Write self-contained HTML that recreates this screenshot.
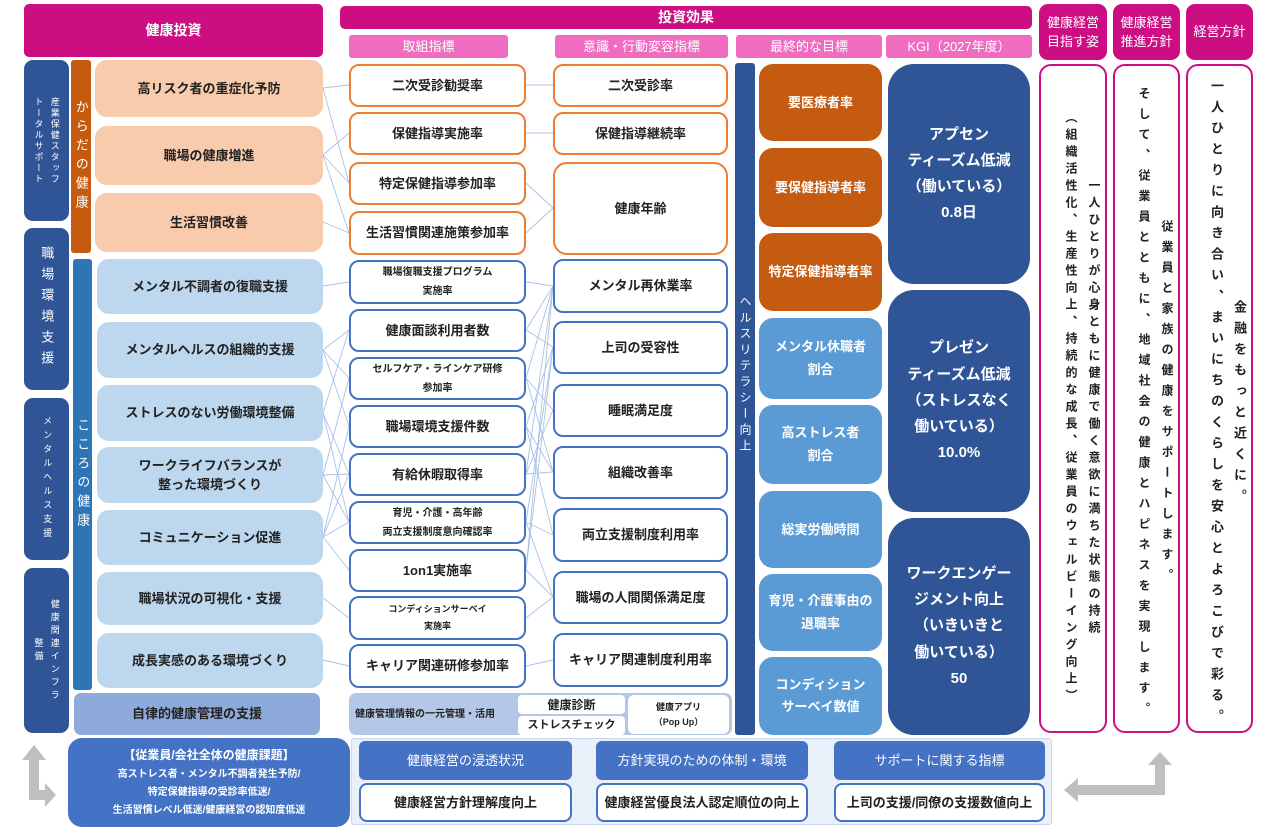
<!DOCTYPE html>
<html><head><meta charset="utf-8">
<style>
*{margin:0;padding:0;box-sizing:border-box}
body{width:1280px;height:833px;background:#fff;position:relative;overflow:hidden;font-family:"Liberation Sans","Noto Sans CJK JP",sans-serif;font-weight:bold;color:#222}
.b{position:absolute;display:flex;align-items:center;justify-content:center;text-align:center;border-radius:9px;font-size:13px;line-height:1.5}
.mg{background:#cc0e82;color:#fff;border-radius:5px}
.pk{background:#f06cc1;color:#fff;border-radius:3px;font-weight:normal;font-size:13px}
.dk{background:#2f5597;color:#fff}
.or{background:#f8cbad;border-radius:12px}
.lb{background:#bdd7ee;border-radius:12px}
.wo{background:#fff;border:2px solid #ed7d31;border-radius:10px}
.wb{background:#fff;border:2px solid #4472c4;border-radius:10px}
.fo{background:#c55a11;color:#fff;border-radius:14px}
.fb{background:#5b9bd5;color:#fff;border-radius:14px}
.kg{background:#2f5597;color:#fff;border-radius:26px;font-size:15px;line-height:1.75}
.v{writing-mode:vertical-rl;text-orientation:upright;letter-spacing:2px}
.rt{position:absolute;border:2.5px solid #cc0e82;border-radius:12px;background:#fff;writing-mode:vertical-rl;text-align:center;font-size:12px;line-height:23px;letter-spacing:5px;padding-top:12px;display:flex;justify-content:center}
.sm{font-size:10px;line-height:1.9}
</style></head><body>

<svg style="position:absolute;left:0;top:0" width="1280" height="833">
<g stroke="#a9c1e8" stroke-width="0.9" fill="none">
<line x1="323" y1="88" x2="349" y2="85"/><line x1="323" y1="88" x2="349" y2="183"/>
<line x1="323" y1="155" x2="349" y2="133"/><line x1="323" y1="155" x2="349" y2="183"/><line x1="323" y1="155" x2="349" y2="233"/>
<line x1="323" y1="222" x2="349" y2="233"/>
<line x1="323" y1="286" x2="349" y2="282"/>
<line x1="323" y1="350" x2="349" y2="330"/><line x1="323" y1="350" x2="349" y2="378"/><line x1="323" y1="350" x2="349" y2="426"/>
<line x1="323" y1="413" x2="349" y2="330"/><line x1="323" y1="413" x2="349" y2="474"/><line x1="323" y1="413" x2="349" y2="522"/>
<line x1="323" y1="475" x2="349" y2="378"/><line x1="323" y1="475" x2="349" y2="474"/><line x1="323" y1="475" x2="349" y2="522"/>
<line x1="323" y1="537" x2="349" y2="426"/><line x1="323" y1="537" x2="349" y2="474"/><line x1="323" y1="537" x2="349" y2="522"/><line x1="323" y1="537" x2="349" y2="570"/>
<line x1="323" y1="598" x2="349" y2="618"/><line x1="323" y1="660" x2="349" y2="666"/>
<line x1="526" y1="85" x2="553" y2="85"/><line x1="526" y1="133" x2="553" y2="133"/>
<line x1="526" y1="183" x2="553" y2="208"/><line x1="526" y1="233" x2="553" y2="208"/>
<line x1="526" y1="282" x2="553" y2="286"/>
<line x1="526" y1="330" x2="553" y2="286"/><line x1="526" y1="330" x2="553" y2="347"/>
<line x1="526" y1="378" x2="553" y2="286"/><line x1="526" y1="378" x2="553" y2="410"/><line x1="526" y1="378" x2="553" y2="472"/>
<line x1="526" y1="426" x2="553" y2="347"/><line x1="526" y1="426" x2="553" y2="472"/><line x1="526" y1="426" x2="553" y2="535"/>
<line x1="526" y1="474" x2="553" y2="410"/><line x1="526" y1="474" x2="553" y2="472"/><line x1="526" y1="474" x2="553" y2="286"/>
<line x1="526" y1="522" x2="553" y2="535"/><line x1="526" y1="522" x2="553" y2="597"/><line x1="526" y1="522" x2="553" y2="347"/>
<line x1="526" y1="570" x2="553" y2="286"/><line x1="526" y1="570" x2="553" y2="347"/><line x1="526" y1="570" x2="553" y2="597"/>
<line x1="526" y1="618" x2="553" y2="597"/><line x1="526" y1="666" x2="553" y2="660"/>
</g>
<g fill="#bfbfbf">
<polygon points="29,800 29,760 22,760 34,745 46,760 39,760 39,790 45,790 45,783 56,795 45,807 45,800"/>
<polygon points="1078,785 1155,785 1155,765 1148,765 1160,752 1172,765 1165,765 1165,795 1078,795 1078,802 1064,790 1078,778"/>
</g>
</svg>

<div class="b mg" style="left:24px;top:4px;width:299px;height:53px;font-size:14px">健康投資</div>
<div class="b mg" style="left:340px;top:6px;width:692px;height:23px;font-size:14px">投資効果</div>
<div class="b pk" style="left:349px;top:35px;width:159px;height:23px">取組指標</div>
<div class="b pk" style="left:555px;top:35px;width:173px;height:23px">意識・行動変容指標</div>
<div class="b pk" style="left:736px;top:35px;width:146px;height:23px">最終的な目標</div>
<div class="b pk" style="left:886px;top:35px;width:146px;height:23px">KGI（2027年度）</div>
<div class="b mg" style="left:1039px;top:4px;width:68px;height:56px;border-radius:9px;font-weight:normal">健康経営<br>目指す姿</div>
<div class="b mg" style="left:1113px;top:4px;width:67px;height:56px;border-radius:9px;font-weight:normal">健康経営<br>推進方針</div>
<div class="b mg" style="left:1186px;top:4px;width:67px;height:56px;border-radius:9px;font-weight:normal">経営方針</div>

<div class="rt" style="left:1039px;top:64px;width:68px;height:669px;padding-top:20px"><span>一人ひとりが心身ともに健康で働く意欲に満ちた状態の持続<br>（組織活性化、生産性向上、持続的な成長、従業員のウェルビーイング向上）</span></div>
<div class="rt" style="left:1113px;top:64px;width:67px;height:669px;letter-spacing:8.5px"><span>従業員と家族の健康をサポートします。<br>そして、従業員とともに、地域社会の健康とハピネスを実現します。</span></div>
<div class="rt" style="left:1186px;top:64px;width:67px;height:669px;font-size:13px;letter-spacing:8px"><span>金融をもっと近くに。<br>一人ひとりに向き合い、まいにちのくらしを安心とよろこびで彩る。</span></div>

<div class="b dk v" style="left:24px;top:60px;width:45px;height:161px;font-size:9px;font-weight:normal;line-height:1.8">産業保健スタッフ<br>トータルサポート</div>
<div class="b dk v" style="left:24px;top:228px;width:45px;height:162px;font-size:13px;font-weight:normal;letter-spacing:8px">職場環境支援</div>
<div class="b dk v" style="left:24px;top:398px;width:45px;height:162px;font-size:9px;font-weight:normal;letter-spacing:5px">メンタルヘルス支援</div>
<div class="b dk v" style="left:24px;top:568px;width:45px;height:165px;font-size:9px;font-weight:normal;line-height:1.8;letter-spacing:4px">健康関連インフラ<br>整備</div>
<div class="b v" style="left:71px;top:60px;width:20px;height:193px;background:#c55a11;color:#fff;border-radius:3px;font-size:13px;font-weight:normal;letter-spacing:6px">からだの健康</div>
<div class="b v" style="left:73px;top:259px;width:19px;height:431px;background:#2e75b6;color:#fff;border-radius:3px;font-size:13px;font-weight:normal;letter-spacing:6px">こころの健康</div>

<div class="b or" style="left:95px;top:60px;width:228px;height:57px">高リスク者の重症化予防</div>
<div class="b or" style="left:95px;top:126px;width:228px;height:59px">職場の健康増進</div>
<div class="b or" style="left:95px;top:193px;width:228px;height:59px">生活習慣改善</div>
<div class="b lb" style="left:97px;top:259px;width:226px;height:55px">メンタル不調者の復職支援</div>
<div class="b lb" style="left:97px;top:322px;width:226px;height:56px">メンタルヘルスの組織的支援</div>
<div class="b lb" style="left:97px;top:385px;width:226px;height:56px">ストレスのない労働環境整備</div>
<div class="b lb" style="left:97px;top:447px;width:226px;height:56px">ワークライフバランスが<br>整った環境づくり</div>
<div class="b lb" style="left:97px;top:510px;width:226px;height:55px">コミュニケーション促進</div>
<div class="b lb" style="left:97px;top:572px;width:226px;height:53px">職場状況の可視化・支援</div>
<div class="b lb" style="left:97px;top:633px;width:226px;height:55px">成長実感のある環境づくり</div>
<div class="b" style="left:74px;top:693px;width:246px;height:42px;background:#8eaadb;border-radius:7px">自律的健康管理の支援</div>

<div class="b wo" style="left:349px;top:64px;width:177px;height:43px">二次受診勧奨率</div>
<div class="b wo" style="left:349px;top:112px;width:177px;height:43px">保健指導実施率</div>
<div class="b wo" style="left:349px;top:162px;width:177px;height:43px">特定保健指導参加率</div>
<div class="b wo" style="left:349px;top:211px;width:177px;height:44px">生活習慣関連施策参加率</div>
<div class="b wb sm" style="left:349px;top:260px;width:177px;height:44px">職場復職支援プログラム<br>実施率</div>
<div class="b wb" style="left:349px;top:309px;width:177px;height:43px">健康面談利用者数</div>
<div class="b wb sm" style="left:349px;top:357px;width:177px;height:43px">セルフケア・ラインケア研修<br>参加率</div>
<div class="b wb" style="left:349px;top:405px;width:177px;height:43px">職場環境支援件数</div>
<div class="b wb" style="left:349px;top:453px;width:177px;height:43px">有給休暇取得率</div>
<div class="b wb sm" style="left:349px;top:501px;width:177px;height:43px">育児・介護・高年齢<br>両立支援制度意向確認率</div>
<div class="b wb" style="left:349px;top:549px;width:177px;height:43px">1on1実施率</div>
<div class="b wb sm" style="left:349px;top:596px;width:177px;height:44px;font-size:9px">コンディションサーベイ<br>実施率</div>
<div class="b wb" style="left:349px;top:644px;width:177px;height:44px">キャリア関連研修参加率</div>

<div class="b wo" style="left:553px;top:64px;width:175px;height:43px">二次受診率</div>
<div class="b wo" style="left:553px;top:112px;width:175px;height:43px">保健指導継続率</div>
<div class="b wo" style="left:553px;top:162px;width:175px;height:93px;border-radius:14px">健康年齢</div>
<div class="b wb" style="left:553px;top:259px;width:175px;height:54px">メンタル再休業率</div>
<div class="b wb" style="left:553px;top:321px;width:175px;height:53px">上司の受容性</div>
<div class="b wb" style="left:553px;top:384px;width:175px;height:53px">睡眠満足度</div>
<div class="b wb" style="left:553px;top:446px;width:175px;height:53px">組織改善率</div>
<div class="b wb" style="left:553px;top:508px;width:175px;height:54px">両立支援制度利用率</div>
<div class="b wb" style="left:553px;top:571px;width:175px;height:53px">職場の人間関係満足度</div>
<div class="b wb" style="left:553px;top:633px;width:175px;height:54px">キャリア関連制度利用率</div>

<div class="b" style="left:349px;top:693px;width:383px;height:42px;background:#b4c7e7;border-radius:7px;justify-content:flex-start;padding-left:6px;font-size:10px">健康管理情報の一元管理・活用</div>
<div class="b" style="left:518px;top:695px;width:107px;height:19px;background:#fff;border-radius:4px;font-size:12px">健康診断</div>
<div class="b" style="left:518px;top:716px;width:107px;height:19px;background:#fff;border-radius:4px;font-size:11px">ストレスチェック</div>
<div class="b" style="left:628px;top:695px;width:101px;height:39px;background:#fff;border-radius:6px;font-size:9px;line-height:1.6">健康アプリ<br>（Pop Up）</div>

<div class="b v" style="left:735px;top:63px;width:20px;height:672px;background:#2f5597;color:#fff;border-radius:3px;font-size:12px;font-weight:normal;justify-content:flex-start;align-items:center;letter-spacing:4px"><span style="margin-top:232px">ヘルスリテラシー向上</span></div>

<div class="b fo" style="left:759px;top:64px;width:123px;height:77px">要医療者率</div>
<div class="b fo" style="left:759px;top:148px;width:123px;height:79px">要保健指導者率</div>
<div class="b fo" style="left:759px;top:233px;width:123px;height:78px">特定保健指導者率</div>
<div class="b fb" style="left:759px;top:318px;width:123px;height:81px;line-height:1.7">メンタル休職者<br>割合</div>
<div class="b fb" style="left:759px;top:405px;width:123px;height:79px;line-height:1.7">高ストレス者<br>割合</div>
<div class="b fb" style="left:759px;top:491px;width:123px;height:77px">総実労働時間</div>
<div class="b fb" style="left:759px;top:574px;width:123px;height:77px;line-height:1.7">育児・介護事由の<br>退職率</div>
<div class="b fb" style="left:759px;top:657px;width:123px;height:78px;line-height:1.7">コンディション<br>サーベイ数値</div>

<div class="b kg" style="left:888px;top:64px;width:142px;height:220px">アプセン<br>ティーズム低減<br>（働いている）<br>0.8日</div>
<div class="b kg" style="left:888px;top:290px;width:142px;height:222px">プレゼン<br>ティーズム低減<br>（ストレスなく<br>働いている）<br>10.0%</div>
<div class="b kg" style="left:888px;top:518px;width:142px;height:217px">ワークエンゲー<br>ジメント向上<br>（いきいきと<br>働いている）<br>50</div>

<div class="b" style="left:68px;top:738px;width:282px;height:89px;background:#4472c4;color:#fff;border-radius:14px;font-size:10px;line-height:1.8"><div><span style="font-size:12px">【従業員/会社全体の健康課題】</span><br>高ストレス者・メンタル不調者発生予防/<br>特定保健指導の受診率低迷/<br>生活習慣レベル低迷/健康経営の認知度低迷</div></div>
<div style="position:absolute;left:351px;top:738px;width:701px;height:87px;background:#eaf0f9;border:1px solid #c8d6ee;border-radius:3px"></div>
<div class="b" style="left:359px;top:741px;width:213px;height:39px;background:#4472c4;color:#fff;border-radius:6px;font-weight:normal">健康経営の浸透状況</div>
<div class="b" style="left:596px;top:741px;width:212px;height:39px;background:#4472c4;color:#fff;border-radius:6px;font-weight:normal">方針実現のための体制・環境</div>
<div class="b" style="left:834px;top:741px;width:211px;height:39px;background:#4472c4;color:#fff;border-radius:6px;font-weight:normal">サポートに関する指標</div>
<div class="b wb" style="left:359px;top:783px;width:213px;height:39px;border-radius:8px">健康経営方針理解度向上</div>
<div class="b wb" style="left:596px;top:783px;width:212px;height:39px;border-radius:8px">健康経営優良法人認定順位の向上</div>
<div class="b wb" style="left:834px;top:783px;width:211px;height:39px;border-radius:8px">上司の支援/同僚の支援数値向上</div>

</body></html>
